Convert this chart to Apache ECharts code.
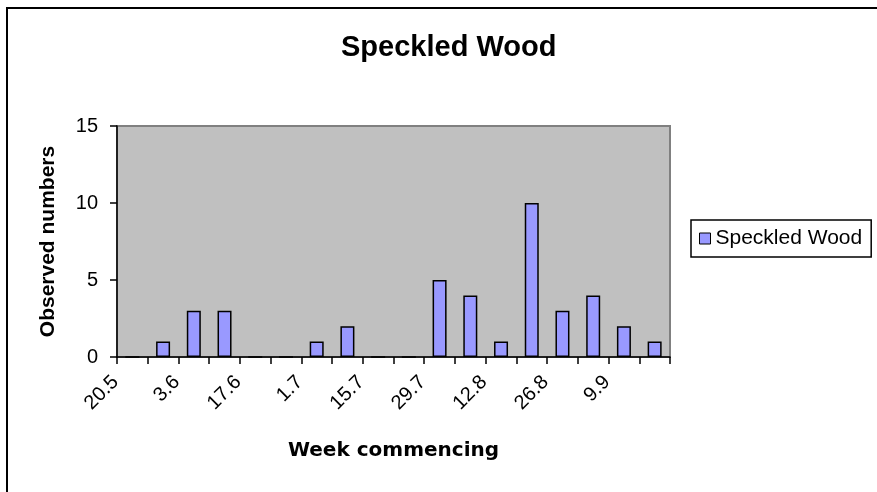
<!DOCTYPE html>
<html>
<head>
<meta charset="utf-8">
<script src="https://cdn.jsdelivr.net/npm/echarts@6/dist/echarts.min.js"></script>
<style>
  html, body { margin: 0; padding: 0; background: #fff; }
  #chart { width: 877px; height: 492px; }
</style>
</head>
<body>
<div id="chart"></div>
<script>
// week commencing (day.month)
var weeks = ['20.5', '27.5', '3.6', '10.6', '17.6', '24.6', '1.7', '8.7', '15.7',
  '22.7', '29.7', '5.8', '12.8', '19.8', '26.8', '2.9', '9.9', '16.9'];
var observed = [0, 1, 3, 3, 0, 0, 1, 2, 0, 0, 5, 4, 1, 10, 3, 4, 2, 1];
var yTicks = { min: 0, max: 15, step: 5 };

var font = 'Arial, "Liberation Sans", sans-serif';
var myChart = echarts.init(document.getElementById('chart'));

var option = {
  animation: false,
  backgroundColor: '#fff',
  textStyle: { fontFamily: font },
  title: {
    text: 'Speckled Wood',
    left: 336,
    top: 28,
    textStyle: { fontSize: 29, fontWeight: 'bold', color: '#000', fontFamily: font }
  },
  legend: {
    data: ['Speckled Wood'],
    orient: 'vertical',
    left: 691,
    top: 220,
    padding: [8, 9, 8, 8],
    borderColor: '#000',
    borderWidth: 1.5,
    icon: 'rect',
    itemWidth: 11,
    itemHeight: 11,
    itemGap: 5,
    itemStyle: { borderColor: '#000', borderWidth: 1 },
    textStyle: { fontSize: 21, color: '#000', fontFamily: font }
  },
  grid: {
    left: 117,
    right: 207,
    top: 126,
    bottom: 135,
    show: true,
    backgroundColor: '#C0C0C0',
    borderColor: '#808080',
    borderWidth: 2
  },
  xAxis: {
    type: 'category',
    data: weeks,
    name: 'Week commencing',
    nameLocation: 'middle',
    nameGap: 84,
    nameTextStyle: { fontSize: 20, fontWeight: 'bold', color: '#000', fontFamily: '"DejaVu Sans", sans-serif' },
    axisLine: { lineStyle: { color: '#000', width: 1.5 } },
    axisTick: { show: true, length: 7, interval: 0, lineStyle: { color: '#000', width: 1.5 } },
    axisLabel: {
      interval: 1,
      rotate: 45,
      margin: 5,
      padding: [0, 24, 0, 0],
      fontSize: 20,
      color: '#000',
      fontFamily: font
    },
    splitLine: { show: false }
  },
  yAxis: {
    type: 'value',
    min: yTicks.min,
    max: yTicks.max,
    interval: yTicks.step,
    name: 'Observed numbers',
    nameLocation: 'middle',
    nameGap: 58,
    nameTextStyle: { fontSize: 21, fontWeight: 'bold', color: '#000', fontFamily: font },
    axisLine: { show: true, lineStyle: { color: '#000', width: 1.5 } },
    axisTick: { show: true, length: 7, lineStyle: { color: '#000', width: 1.5 } },
    axisLabel: { margin: 19, fontSize: 20, color: '#000', fontFamily: font },
    splitLine: { show: false }
  },
  series: [
    {
      name: 'Speckled Wood',
      type: 'bar',
      data: observed,
      barWidth: 14,
      itemStyle: { color: '#9999FF', borderColor: '#000', borderWidth: 1.5 }
    }
  ],
  graphic: [
    {
      type: 'rect',
      shape: { x: 7, y: 8, width: 900, height: 500 },
      style: { fill: 'none', stroke: '#000', lineWidth: 2 },
      silent: true
    }
  ]
};

myChart.setOption(option);
</script>
</body>
</html>
